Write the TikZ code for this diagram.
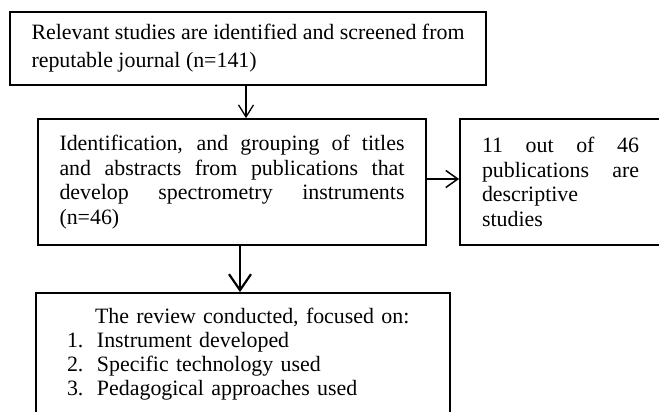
\documentclass[tikz,border=0pt]{standalone}
\usepackage{fontspec}
\setmainfont{Liberation Serif}
\usetikzlibrary{arrows.meta}
\newcommand{\stretchline}[2]{\makebox[#1][s]{\spaceskip=0pt\xspaceskip=0pt #2}}
\tikzset{
  box/.style={draw=black, line width=1.8pt, inner sep=0pt, align=left, anchor=center},
  fA/.style={font={\fontsize{21.9pt}{28pt}\selectfont}},
  fB/.style={font={\fontsize{21.9pt}{24.5pt}\selectfont}},
  fC/.style={font={\fontsize{21.9pt}{24pt}\selectfont}},
  arrA/.style={line width=1.3pt, -{Straight Barb[length=12pt,width=15pt,line width=1.3pt]}},
  arrB/.style={line width=1.5pt, -{Straight Barb[length=12pt,width=17pt,line width=1.5pt]}},
  arrC/.style={line width=2.2pt, -{Straight Barb[length=16pt,width=22pt,line width=2.2pt]}},
}
\begin{document}
\begin{tikzpicture}[x=1pt,y=-1pt]
\useasboundingbox (0,0) rectangle (659,412);
\clip (0,0) rectangle (659,412);
\node[box,fA,minimum width=476pt,minimum height=73pt] (b1) at (248,48.5)
  {Relevant studies are identified and screened from\\reputable journal (n=141)};
\node[box,fB,minimum width=388pt,minimum height=126pt] (b2) at (232,182)
  {\stretchline{345pt}{Identification, and grouping of titles}\\
   \stretchline{345pt}{and abstracts from publications that}\\
   \stretchline{345pt}{develop spectrometry instruments}\\
   (n=46)};
\node[box,fB,minimum width=220pt,minimum height=126pt,text width=176pt] (b3) at (570,182)
  {\stretchline{157pt}{11 out of 46}\\
   \stretchline{157pt}{publications are}\\
   descriptive\\
   studies};
\node[box,fC,minimum width=414pt,minimum height=122pt,text width=352pt] (b4) at (243,354)
  {\hspace*{28pt}The review conducted, focused on:\\
   \makebox[30pt][l]{1.}Instrument developed\\
   \makebox[30pt][l]{2.}Specific technology used\\
   \makebox[30pt][l]{3.}Pedagogical approaches used};
\coordinate (p1) at (246,0);
\coordinate (p2) at (0,179);
\coordinate (p3) at (240,0);
\draw[arrA] (b1.south -| p1) -- (b2.north -| p1);
\draw[arrB] (b2.east |- p2) -- (b3.west |- p2);
\draw[arrC] (b2.south -| p3) -- (b4.north -| p3);
\end{tikzpicture}
\end{document}
